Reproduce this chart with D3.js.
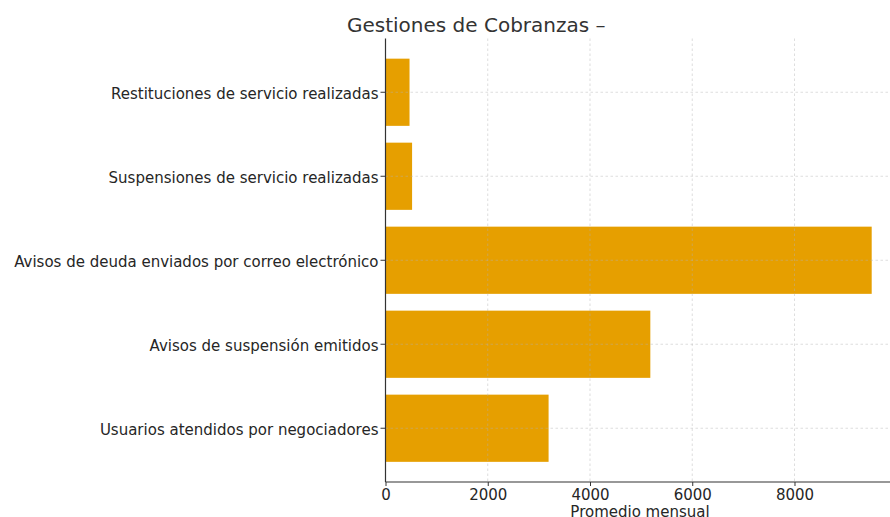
<!DOCTYPE html>
<html><head><meta charset="utf-8">
<script src="https://cdn.jsdelivr.net/npm/d3@7"></script>
<style>body{margin:0;background:#fff;}svg{display:block;font-family:"DejaVu Sans",sans-serif;}</style>
</head><body>
<svg id="c" width="890" height="517"></svg>
<script>
const categories = ["Restituciones de servicio realizadas","Suspensiones de servicio realizadas","Avisos de deuda enviados por correo electrónico","Avisos de suspensión emitidos","Usuarios atendidos por negociadores"];
const values = [470, 520, 9510, 5180, 3190];
const xTicks = [0, 2000, 4000, 6000, 8000];
const titleText = "Gestiones de Cobranzas –";
const xLabel = "Promedio mensual";

(function(){
const svg = d3.select("#c");
const mL = 385.5, mR = 896, mT = 38.5, mB = 482;
const maxV = d3.max(values) * 1.05;
const x = d3.scaleLinear().domain([0, maxV]).range([mL, mR]);
const n = categories.length;
const y = d3.scaleLinear().domain([-0.4 - 0.24, n - 1 + 0.4 + 0.24]).range([mT, mB]);

svg.append("g").selectAll("rect").data(values).join("rect")
  .attr("x", x(0)).attr("y", (d,i)=>y(i-0.4))
  .attr("width", d=>x(d)-x(0)).attr("height", (d,i)=>y(i+0.4)-y(i-0.4))
  .attr("fill", "#E69F00");

const g = svg.append("g").attr("stroke","#b0b0b0").attr("stroke-opacity",0.55).attr("stroke-dasharray","2.5,2.5").attr("stroke-width",0.8);
xTicks.forEach(t=>{ if(t>0) g.append("line").attr("x1",x(t)).attr("x2",x(t)).attr("y1",mT).attr("y2",mB); });
categories.forEach((c,i)=>g.append("line").attr("x1",mL).attr("x2",mR).attr("y1",y(i)).attr("y2",y(i)));

const xa = svg.append("g").attr("transform",`translate(0,${mB})`)
  .call(d3.axisBottom(x).tickValues(xTicks).tickSize(4).tickPadding(3).tickFormat(d3.format("d")));
const ya = svg.append("g").attr("transform",`translate(${mL},0)`)
  .call(d3.axisLeft(d3.scaleBand().domain(categories).range([y(-0.5), y(n-0.5)])).tickSize(5).tickPadding(2));
[xa, ya].forEach(a=>{
  a.select(".domain").attr("stroke","#333").attr("stroke-width",1.2);
  a.selectAll(".tick line").attr("stroke","#333");
  a.selectAll("text").attr("fill","#262626").style("font-size","15px").style("font-family","DejaVu Sans");
});
ya.selectAll(".tick text").attr("y", 2);
xa.select(".domain").attr("d",`M${mL},0H${mR}`);
ya.select(".domain").attr("d",`M0,${mT}V${mB}`);

svg.append("text").attr("x",640).attr("y",517).attr("text-anchor","middle")
  .attr("fill","#262626").style("font-size","15px").text(xLabel);
svg.append("text").attr("x",347).attr("y",32).attr("text-anchor","start")
  .attr("fill","#333").style("font-size","20px").text(titleText);
})();
</script>
</body></html>
